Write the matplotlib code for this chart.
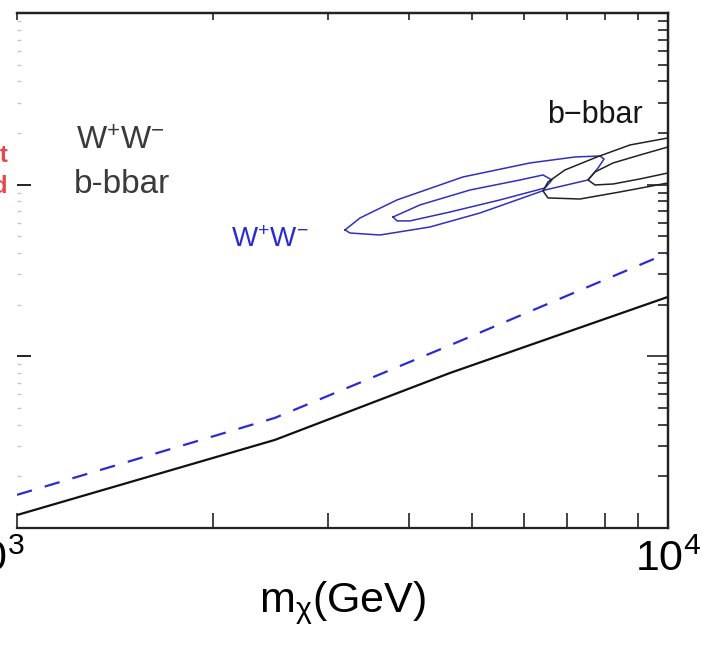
import matplotlib
matplotlib.use('Agg')
import matplotlib.pyplot as plt
from matplotlib.ticker import LogLocator, NullFormatter, FixedLocator, LogFormatterSciNotation
from matplotlib.transforms import ScaledTranslation

plt.rcParams['font.family'] = ['Liberation Sans', 'DejaVu Sans']
plt.rcParams['mathtext.fontset'] = 'custom'
plt.rcParams['mathtext.rm'] = 'Liberation Sans'
plt.rcParams['mathtext.it'] = 'Liberation Sans'
plt.rcParams['mathtext.bf'] = 'Liberation Sans:bold'
plt.rcParams['mathtext.default'] = 'regular'

# ---- data ----
mass_limit = [1000, 2490, 4625, 10000]
sigma_bb_limit = [1.19e-27, 3.26e-27, 8.0e-27, 2.22e-26]
sigma_ww_limit = [1.56e-27, 4.38e-27, 1.16e-26, 4.0e-26]

ww_outer_mass = [3190, 3365, 3835, 4843, 6138, 7195, 7862, 7975, 7808, 7536,
                 6473, 5143, 4310, 3610, 3247, 3190]
ww_outer_sigma = [5.45e-26, 6.40e-26, 8.15e-26, 1.109e-25, 1.338e-25, 1.450e-25,
                  1.469e-25, 1.411e-25, 1.251e-25, 1.065e-25, 9.31e-26, 6.84e-26,
                  5.67e-26, 5.09e-26, 5.23e-26, 5.45e-26]

ww_inner_mass = [3781, 4159, 4965, 5925, 6427, 6634, 6473, 5520, 4625, 4015, 3835, 3781]
ww_inner_sigma = [6.48e-26, 7.62e-26, 9.31e-26, 1.065e-25, 1.139e-25, 1.065e-25,
                  9.57e-26, 8.15e-26, 6.93e-26, 6.15e-26, 6.15e-26, 6.48e-26]

bb_outer_mass = [10000, 8741, 7779, 6946, 6541, 6427, 6541, 7324, 8439, 10000]
bb_outer_sigma = [1.871e-25, 1.703e-25, 1.450e-25, 1.218e-25, 1.037e-25, 9.19e-26,
                  8.37e-26, 8.25e-26, 9.07e-26, 1.023e-25]

bb_inner_mass = [10000, 9058, 8233, 7725, 7536, 7725, 8233, 9058, 10000]
bb_inner_sigma = [1.658e-25, 1.489e-25, 1.338e-25, 1.186e-25, 1.065e-25, 9.96e-26,
                  1.009e-25, 1.080e-25, 1.170e-25]

x_limits = [1e3, 1e4]
y_limits = [1e-27, 1e-24]
x_major = [1e3, 1e4]

W, H = 703, 648
fig = plt.figure(figsize=(W / 100, H / 100), dpi=100)
ax = fig.add_axes([17 / W, (H - 528) / H, 651 / W, 515 / H])

blue = '#2b2bd6'
ax.plot(mass_limit, sigma_bb_limit, color='#111111', lw=1.6)
ax.plot(mass_limit, sigma_ww_limit, color=blue, lw=1.6, dashes=(7, 6))
ax.plot(ww_outer_mass, ww_outer_sigma, color='#3030c0', lw=1.1)
ax.plot(ww_inner_mass, ww_inner_sigma, color='#3030c0', lw=1.1)
ax.plot(bb_outer_mass, bb_outer_sigma, color='#222222', lw=1.1)
ax.plot(bb_inner_mass, bb_inner_sigma, color='#222222', lw=1.1)

ax.set_xscale('log')
ax.set_yscale('log')
ax.set_xlim(*x_limits)
ax.set_ylim(*y_limits)

ax.xaxis.set_major_locator(FixedLocator(x_major))
ax.xaxis.set_major_formatter(LogFormatterSciNotation())
ax.xaxis.set_minor_locator(LogLocator(base=10, subs=range(2, 10)))
ax.xaxis.set_minor_formatter(NullFormatter())
ax.yaxis.set_major_locator(LogLocator(base=10, numticks=10))
ax.yaxis.set_minor_locator(LogLocator(base=10, subs=range(2, 10), numticks=10))
ax.yaxis.set_minor_formatter(NullFormatter())

for s in ['top', 'right', 'bottom']:
    ax.spines[s].set_linewidth(1.6)
    ax.spines[s].set_color('#222222')
ax.spines['left'].set_visible(False)

ax.tick_params(axis='x', which='both', direction='in', top=False, bottom=True,
               labelsize=31, pad=8, width=1.2, color='#222222')
ax.tick_params(axis='x', which='major', length=11)
ax.tick_params(axis='x', which='minor', length=11)
# left: faint minor ticks, short dark major ticks
ax.tick_params(axis='y', which='both', direction='in', left=True, right=False,
               labelleft=False)
ax.tick_params(axis='y', which='major', length=10, width=1.4, color='#222222')
ax.tick_params(axis='y', which='minor', length=3, width=1.0, color='#c8c8c8')

# right ticks
right = ax.secondary_yaxis('right')
right.yaxis.set_major_locator(LogLocator(base=10, numticks=10))
right.yaxis.set_minor_locator(LogLocator(base=10, subs=range(2, 10), numticks=10))
right.yaxis.set_major_formatter(NullFormatter())
right.yaxis.set_minor_formatter(NullFormatter())
right.tick_params(which='both', direction='in', width=1.2, color='#222222')
right.tick_params(which='major', length=15)
right.tick_params(which='minor', length=7)
right.spines['right'].set_linewidth(1.6)

# top minor ticks (shorter)
top = ax.secondary_xaxis('top')
top.xaxis.set_major_locator(FixedLocator(x_major))
top.xaxis.set_minor_locator(LogLocator(base=10, subs=range(2, 10)))
top.xaxis.set_major_formatter(NullFormatter())
top.xaxis.set_minor_formatter(NullFormatter())
top.tick_params(which='both', direction='in', length=5, width=1.2, color='#222222')
top.spines['top'].set_linewidth(1.6)

fig.canvas.draw()
labs = ax.get_xticklabels()
if labs:
    labs[0].set_transform(labs[0].get_transform() + ScaledTranslation(-0.25, 0, fig.dpi_scale_trans))

ax.set_xlabel(r'm$_{\chi}$(GeV)', fontsize=31)
ax.xaxis.set_label_coords(0.5, -0.10)

# annotations
fig.text(120 / W, 1 - 150 / H, r'W$^{+}$W$^{-}$', ha='center', va='baseline',
         fontsize=23, color='#3a3a3a')
fig.text(122 / W, 1 - 193 / H, 'b-bbar', ha='center', va='baseline',
         fontsize=24, color='#3a3a3a')
fig.text(270 / W, 1 - 247 / H, r'W$^{+}$W$^{-}$', ha='center', va='baseline',
         fontsize=20, color=blue)
fig.text(595 / W, 1 - 123 / H, 'b\u2212bbar', ha='center', va='baseline',
         fontsize=22, color='#151515')
fig.text(8 / W, 1 - 162 / H, 't', ha='right', va='baseline',
         fontsize=17, color='#e8464f', fontweight='bold')
fig.text(8 / W, 1 - 193 / H, 'd', ha='right', va='baseline',
         fontsize=17, color='#e8464f', fontweight='bold')

fig.savefig('out.png', dpi=100)
